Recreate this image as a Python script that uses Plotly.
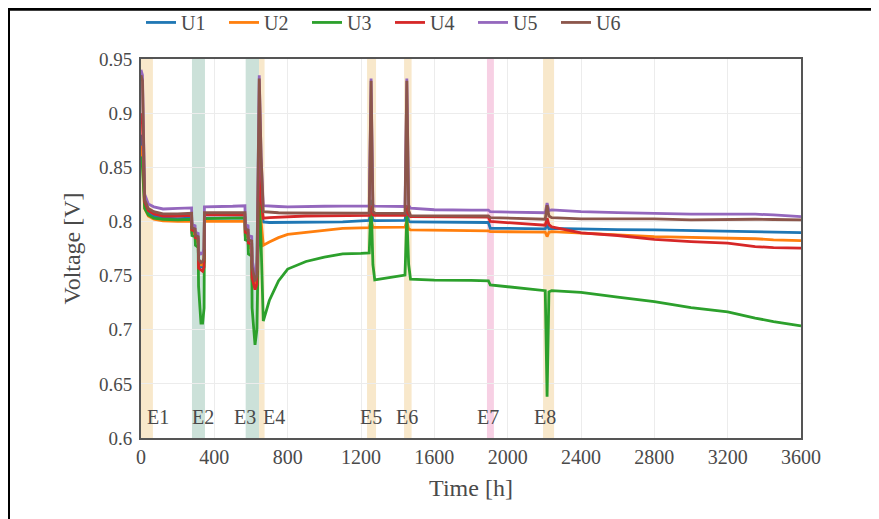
import plotly.graph_objects as go

# ---- data ----
time_h = [0, 8, 20, 40, 70, 120, 200, 276, 278, 295, 297, 312, 314, 327, 336, 344, 346, 400, 500,
          567, 569, 584, 586, 604, 606, 622, 632, 645, 655, 667, 700, 750, 800, 900, 1000, 1100,
          1200, 1245, 1255, 1265, 1275, 1350, 1440, 1450, 1460, 1470, 1600, 1800, 1895, 1905,
          2000, 2100, 2205, 2215, 2225, 2240, 2400, 2600, 2800, 3000, 3200, 3350, 3450, 3600]

U1 = [0.88, 0.87, 0.815, 0.808, 0.805, 0.803, 0.8025, 0.803, 0.79, 0.789, 0.783, 0.782, 0.76, 0.758,
      0.758, 0.762, 0.803, 0.803, 0.8032, 0.8033, 0.787, 0.786, 0.777, 0.776, 0.75, 0.742, 0.746,
      0.85, 0.81, 0.7995, 0.799, 0.799, 0.799, 0.7992, 0.7993, 0.7995, 0.8005, 0.801, 0.812, 0.8012,
      0.8008, 0.801, 0.801, 0.812, 0.8, 0.7995, 0.7993, 0.7992, 0.799, 0.7937, 0.7935, 0.7935,
      0.7932, 0.797, 0.793, 0.7935, 0.7928, 0.7925, 0.7922, 0.7915, 0.791, 0.79, 0.7902, 0.7897]

U2 = [0.87, 0.86, 0.812, 0.805, 0.802, 0.8005, 0.8, 0.8, 0.789, 0.788, 0.782, 0.781, 0.762, 0.76,
      0.76, 0.763, 0.8, 0.8, 0.8, 0.8, 0.787, 0.786, 0.776, 0.775, 0.745, 0.74, 0.745, 0.83, 0.8,
      0.778, 0.781, 0.785, 0.788, 0.79, 0.792, 0.7935, 0.794, 0.7942, 0.8, 0.7945, 0.7945, 0.7946,
      0.7947, 0.8, 0.793, 0.7922, 0.792, 0.7915, 0.7912, 0.7906, 0.7905, 0.7905, 0.7902, 0.786,
      0.79, 0.7905, 0.789, 0.7875, 0.786, 0.7855, 0.7845, 0.784, 0.783, 0.7823]

U3 = [0.86, 0.85, 0.812, 0.806, 0.803, 0.802, 0.8015, 0.802, 0.787, 0.786, 0.778, 0.776, 0.74,
      0.706, 0.706, 0.72, 0.8025, 0.8027, 0.803, 0.8032, 0.783, 0.782, 0.77, 0.768, 0.72, 0.686,
      0.7, 0.825, 0.78, 0.708, 0.727, 0.745, 0.756, 0.763, 0.767, 0.77, 0.7705, 0.771, 0.82, 0.76,
      0.746, 0.748, 0.7505, 0.805, 0.76, 0.7466, 0.7458, 0.7455, 0.7452, 0.7414, 0.7395, 0.7375,
      0.736, 0.638, 0.735, 0.7361, 0.7345, 0.73, 0.726, 0.7205, 0.7165, 0.7107, 0.7075, 0.7036]

U4 = [0.9, 0.89, 0.818, 0.81, 0.807, 0.805, 0.805, 0.8055, 0.792, 0.791, 0.785, 0.784, 0.757,
      0.755, 0.754, 0.758, 0.806, 0.806, 0.806, 0.806, 0.79, 0.789, 0.78, 0.779, 0.748, 0.737,
      0.742, 0.87, 0.82, 0.803, 0.8035, 0.804, 0.8045, 0.805, 0.8052, 0.8054, 0.8055, 0.8055,
      0.815, 0.806, 0.8055, 0.8055, 0.8055, 0.815, 0.806, 0.8045, 0.8043, 0.804, 0.804, 0.8,
      0.799, 0.798, 0.7965, 0.803, 0.797, 0.795, 0.7895, 0.787, 0.7835, 0.7814, 0.7799, 0.7768,
      0.7758, 0.7753]

U5 = [0.94, 0.935, 0.825, 0.816, 0.8135, 0.8115, 0.812, 0.8125, 0.797, 0.796, 0.79, 0.789, 0.772,
      0.77, 0.771, 0.775, 0.8135, 0.8135, 0.814, 0.8145, 0.797, 0.796, 0.787, 0.786, 0.765, 0.749,
      0.755, 0.935, 0.86, 0.8145, 0.814, 0.8138, 0.8135, 0.8135, 0.814, 0.8142, 0.8142, 0.8142,
      0.932, 0.815, 0.8142, 0.814, 0.8138, 0.932, 0.815, 0.8122, 0.8108, 0.8105, 0.8105, 0.809,
      0.8088, 0.8085, 0.808, 0.817, 0.81, 0.8106, 0.809, 0.8082, 0.8075, 0.8067, 0.8067, 0.8067,
      0.806, 0.8045]

U6 = [0.935, 0.93, 0.82, 0.812, 0.809, 0.807, 0.807, 0.8075, 0.794, 0.793, 0.787, 0.786, 0.765,
      0.762, 0.763, 0.766, 0.808, 0.8078, 0.808, 0.8082, 0.793, 0.792, 0.783, 0.782, 0.758, 0.745,
      0.75, 0.932, 0.86, 0.809, 0.8085, 0.808, 0.8078, 0.8076, 0.8076, 0.8076, 0.8076, 0.8076,
      0.93, 0.809, 0.8076, 0.8075, 0.8075, 0.93, 0.81, 0.8054, 0.8054, 0.8052, 0.805, 0.8035,
      0.803, 0.8025, 0.802, 0.815, 0.805, 0.8035, 0.8023, 0.8023, 0.8023, 0.8014, 0.802, 0.802,
      0.8018, 0.8014]

series_names = ["U1", "U2", "U3", "U4", "U5", "U6"]
series_values = [U1, U2, U3, U4, U5, U6]

event_names = ["E1", "E2", "E3", "E4", "E5", "E6", "E7", "E8"]
event_start = [0, 278, 571, 644, 1233, 1435, 1887, 2193]
event_end = [65, 349, 644, 674, 1282, 1476, 1925, 2253]
event_kind = ["a", "b", "b", "a", "a", "a", "c", "a"]
event_label_x = [93, 338, 567, 725, 1257, 1451, 1890, 2204]

x_ticks = [0, 400, 800, 1200, 1600, 2000, 2400, 2800, 3200, 3600]

# ---- style ----
colors = ["#1f77b4", "#ff7f0e", "#2ca02c", "#d62728", "#9467bd", "#8c564b"]
band_colors = {"a": "rgba(243,214,160,0.55)", "b": "rgba(120,175,155,0.38)", "c": "rgba(240,170,205,0.55)"}
FONT = "Liberation Serif, Times New Roman, serif"
TXT = "#4a4a4a"

fig = go.Figure()
for name, vals, col in zip(series_names, series_values, colors):
    fig.add_trace(go.Scatter(x=time_h, y=vals, mode="lines", name=name,
                             line=dict(color=col, width=2.8)))

shapes = []
for s, e, k in zip(event_start, event_end, event_kind):
    shapes.append(dict(type="rect", xref="x", yref="paper", x0=s, x1=e, y0=0, y1=1,
                       fillcolor=band_colors[k], line=dict(width=0), layer="below"))
# outer frame (top and left edges of the page box)
shapes.append(dict(type="line", xref="paper", yref="paper", x0=-0.2, x1=1.3, y0=1.131, y1=1.131,
                   line=dict(color="black", width=3)))
shapes.append(dict(type="line", xref="paper", yref="paper", x0=-0.2, x1=-0.2, y0=1.135, y1=-0.3,
                   line=dict(color="black", width=2)))

annotations = []
for n, lx in zip(event_names, event_label_x):
    annotations.append(dict(x=lx, y=0.055, xref="x", yref="paper", text=n, showarrow=False,
                            xanchor="center", yanchor="middle",
                            font=dict(family=FONT, size=20, color=TXT)))

fig.update_layout(
    width=879, height=519,
    margin=dict(l=133, r=86, t=51, b=89, autoexpand=False),
    paper_bgcolor="white", plot_bgcolor="white",
    font=dict(family=FONT, size=20, color=TXT),
    shapes=shapes, annotations=annotations,
    legend=dict(orientation="h", x=0.0, y=1.045, xanchor="left", yanchor="bottom",
                font=dict(family=FONT, size=20, color=TXT), entrywidth=38,
                entrywidthmode="pixels", bgcolor="rgba(0,0,0,0)"),
    showlegend=True,
)
fig.update_xaxes(range=[0, 3600], tickvals=x_ticks, showgrid=True, gridcolor="#ececec",
                 showline=True, linecolor="#555", linewidth=2, mirror=True, zeroline=False,
                 ticks="", title=dict(text="Time [h]", font=dict(size=24, family=FONT, color=TXT),
                                      standoff=12),
                 tickfont=dict(size=20, family=FONT, color=TXT))
fig.update_yaxes(range=[0.6, 0.95], dtick=0.05, tick0=0.6, showgrid=True, gridcolor="#ececec",
                 showline=True, linecolor="#555", linewidth=2, mirror=True, zeroline=False,
                 ticks="", ticklabelstandoff=3,
                 title=dict(text="Voltage [V]", font=dict(size=24, family=FONT, color=TXT),
                            standoff=12),
                 tickfont=dict(size=19, family=FONT, color=TXT))

fig.write_html("out.html")
